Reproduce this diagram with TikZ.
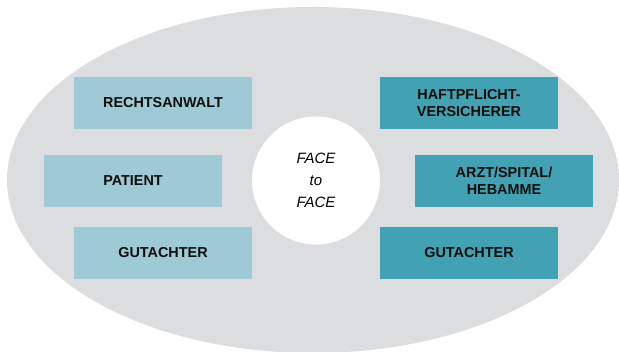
\documentclass[tikz,border=0pt]{standalone}
\usepackage{fontspec}
\setmainfont{Liberation Sans}
\definecolor{ovalgray}{HTML}{DCDDDF}
\definecolor{lightteal}{HTML}{9DCAD5}
\definecolor{darkteal}{HTML}{42A1B3}
\begin{document}
\begin{tikzpicture}[x=1pt,y=-1pt,
  party/.style={minimum width=178pt,minimum height=52pt,inner sep=0pt,
    align=center,font=\fontsize{14.4}{17.3}\selectfont\bfseries,text=black!95},
  plaintiff/.style={party,fill=lightteal},
  defendant/.style={party,fill=darkteal}]
\useasboundingbox (0,0) rectangle (619,352);
\clip (0,0) rectangle (619,352);
% outer arena
\fill[ovalgray] (313,180) ellipse [x radius=306, y radius=173];
% centre meeting point
\node[circle,fill=white,minimum size=128pt,inner sep=0pt,
  align=center,font=\fontsize{15}{21.7}\selectfont\itshape] (face) at (316,180.5)
  {FACE\\to\\FACE};
% left side
\node[plaintiff] (anwalt)  at (163,103) {RECHTSANWALT};
\node[plaintiff] (patient) at (133,181) {PATIENT};
\node[plaintiff] (gutl)    at (163,253) {GUTACHTER};
% right side
\node[defendant] (hpv)  at (469,103) {HAFTPFLICHT-\\VERSICHERER};
\node[defendant] (arzt) at (504,181) {ARZT/SPITAL/\\HEBAMME};
\node[defendant] (gutr) at (469,253) {GUTACHTER};
\end{tikzpicture}
\end{document}
